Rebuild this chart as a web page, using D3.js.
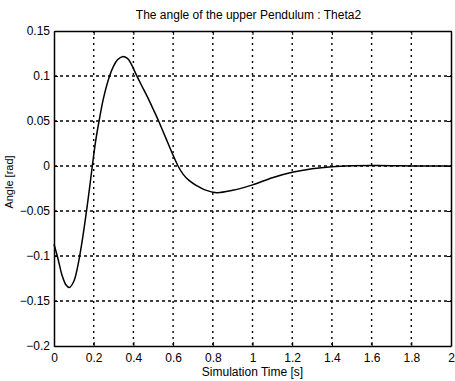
<!DOCTYPE html>
<html><head><meta charset="utf-8">
<script src="https://cdn.jsdelivr.net/npm/d3@7"></script>
<style>body{margin:0;background:#fff}svg{display:block}text{font-family:"Liberation Sans",Arial,sans-serif;fill:#000}</style>
</head><body><svg id="c" width="455" height="381"></svg>
<script>
const timeS = [0,0.02,0.04,0.06,0.077,0.10,0.12,0.14,0.16,0.18,0.193,0.21,0.227,0.25,0.28,0.30,0.32,0.345,0.37,0.39,0.41,0.44,0.47,0.50,0.527,0.55,0.575,0.60,0.625,0.65,0.68,0.72,0.76,0.82,0.90,1.0,1.1,1.2,1.3,1.4,1.5,1.6,1.7,1.8,1.9,2.0];
const theta2 = [-0.087,-0.103,-0.121,-0.132,-0.135,-0.128,-0.111,-0.086,-0.056,-0.023,0,0.028,0.05,0.076,0.100,0.111,0.118,0.1215,0.1195,0.113,0.1035,0.090,0.077,0.063,0.050,0.038,0.025,0.012,0,-0.009,-0.016,-0.022,-0.0265,-0.0296,-0.027,-0.021,-0.013,-0.007,-0.003,-0.0007,0.0003,0.0005,0.0003,0.0001,0,0];
const xTicks = [0,0.2,0.4,0.6,0.8,1,1.2,1.4,1.6,1.8,2];
const yTicks = [0.15,0.1,0.05,0,-0.05,-0.1,-0.15,-0.2];
const titleText = "The angle of the upper Pendulum : Theta2";
const xLabel = "Simulation Time [s]";
const yLabel = "Angle [rad]";

const svg = d3.select("#c");
const L=54,R=451,T=31,B=346;
const x = d3.scaleLinear().domain([0,2]).range([L,R]);
const y = d3.scaleLinear().domain([-0.2,0.15]).range([B,T]);

const g = svg.append("g");
g.selectAll(".vg").data(xTicks.slice(1,-1)).join("line")
 .attr("x1",d=>x(d)).attr("x2",d=>x(d)).attr("y1",T).attr("y2",B)
 .attr("stroke","#000").attr("stroke-width",1.4).attr("stroke-dasharray","2,4");
g.selectAll(".hg").data(yTicks.slice(1,-1)).join("line")
 .attr("y1",d=>y(d)).attr("y2",d=>y(d)).attr("x1",L).attr("x2",R)
 .attr("stroke","#000").attr("stroke-width",1.4).attr("stroke-dasharray","3,3");

svg.append("g").attr("transform",`translate(0,${B})`)
 .call(d3.axisBottom(x).tickValues(xTicks).tickFormat(d3.format("")).tickSizeInner(-4).tickSizeOuter(0).tickPadding(7));
svg.append("g").attr("transform",`translate(${L},0)`)
 .call(d3.axisLeft(y).tickValues(yTicks).tickFormat(d3.format("")).tickSizeInner(-4).tickSizeOuter(0).tickPadding(4));
svg.append("g").attr("transform",`translate(0,${T})`)
 .call(d3.axisTop(x).tickValues(xTicks).tickFormat("").tickSizeInner(-4).tickSizeOuter(0));
svg.append("g").attr("transform",`translate(${R},0)`)
 .call(d3.axisRight(y).tickValues(yTicks).tickFormat("").tickSizeInner(-4).tickSizeOuter(0));
svg.selectAll(".domain").attr("stroke","#000").attr("stroke-width",1.5);
svg.selectAll(".tick line").attr("stroke","#000");
svg.selectAll(".tick text").attr("font-size","12px").attr("font-family","Liberation Sans, Arial, sans-serif").attr("fill","#000");

const pts = timeS.map((t,i)=>[t,theta2[i]]);
svg.append("path").datum(pts)
 .attr("d",d3.line().x(d=>x(d[0])).y(d=>y(d[1])).curve(d3.curveCatmullRom))
 .attr("fill","none").attr("stroke","#000").attr("stroke-width",1.5);

svg.append("text").attr("x",(L+R)/2-4).attr("y",19).attr("text-anchor","middle").attr("font-size","12px").text(titleText);
svg.append("text").attr("x",(L+R)/2).attr("y",376).attr("text-anchor","middle").attr("font-size","12px").text(xLabel);
svg.append("text").attr("transform",`translate(13,182) rotate(-90)`).attr("text-anchor","middle").attr("font-size","11px").text(yLabel);
</script></body></html>
